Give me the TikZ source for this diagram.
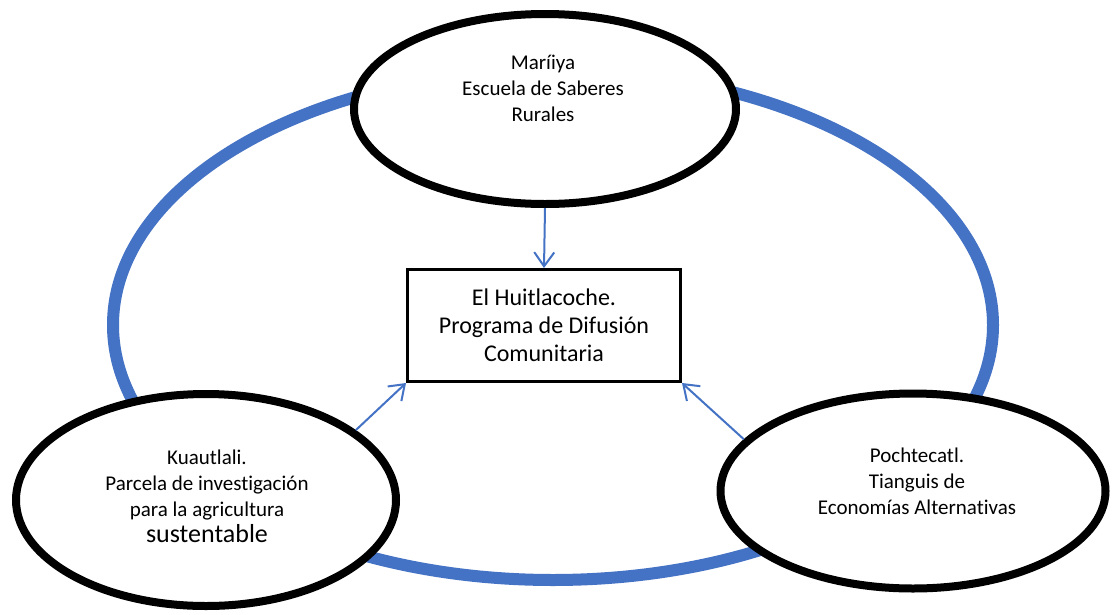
\documentclass[tikz,border=0pt]{standalone}
\usepackage{fontspec}
\setmainfont{Carlito}[Ligatures=NoCommon]
\usetikzlibrary{shapes.geometric,arrows.meta}
\definecolor{ablue}{HTML}{4472C4}
\begin{document}
\begin{tikzpicture}[x=1pt,y=-1pt,
  ring/.style={draw=ablue,line width=12pt},
  bubble/.style={ellipse,draw=black,line width=8pt,fill=white,inner sep=0pt},
  hub/.style={rectangle,draw=black,line width=3pt,fill=white,minimum width=273pt,minimum height=112pt,align=center,inner sep=0pt,font=\fontsize{24}{28}\selectfont},
  txt/.style={align=center,inner sep=0pt,font=\fontsize{21}{26}\selectfont},
  link/.style={draw=ablue,line width=2pt,-{Straight Barb[length=14pt,width=20pt]}}]
\useasboundingbox[fill=white] (0,0) rectangle (1112,614);
\draw[ring] (553,325) ellipse [x radius=440, y radius=255];
\node[bubble,minimum width=382pt,minimum height=190pt] (top) at (545,109) {};
\node[bubble,minimum width=380pt,minimum height=212pt] (left) at (206,500) {};
\node[bubble,minimum width=385pt,minimum height=195pt] (right) at (913,491) {};
\node[hub] (hub) at (544,325.5) {El Huitlacoche.\\Programa de Difusión\\Comunitaria};
\node[txt] (toptxt) at (543,88) {Maríiya\\Escuela de Saberes\\Rurales};
\node[txt] (lefttxt) at (207,496) {Kuautlali.\\Parcela de investigación\\para la agricultura\\{\fontsize{26}{30}\selectfont sustentable}};
\node[txt] (righttxt) at (917,481) {Pochtecatl.\\Tianguis de\\Economías Alternativas};
\draw[link] (top.south) -- (hub.north);
\draw[link] (left.25) -- (hub.south west);
\draw[link] (right.163) -- (hub.south east);
\end{tikzpicture}
\end{document}
